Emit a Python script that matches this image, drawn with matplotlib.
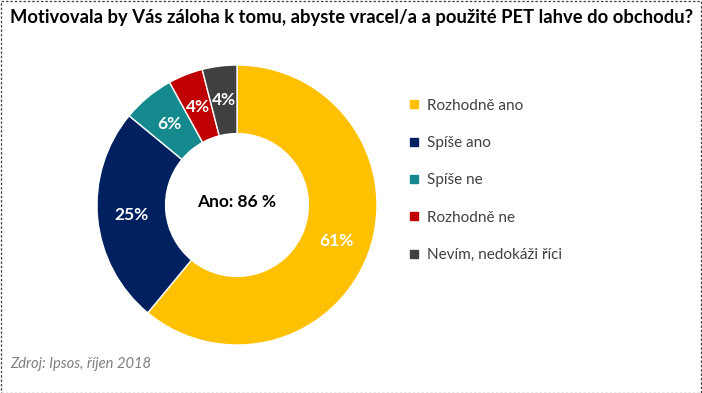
import matplotlib
matplotlib.use("Agg")
import numpy as np
import matplotlib.pyplot as plt
from matplotlib.lines import Line2D
from matplotlib.patches import Rectangle

title = "Motivovala by Vás záloha k tomu, abyste vracel/a a použité PET lahve do obchodu?"
categories = ["Rozhodně ano", "Spíše ano", "Spíše ne", "Rozhodně ne", "Nevím, nedokáži říci"]
values = [61, 25, 6, 4, 4]
colors = ["#FFC000", "#002060", "#148A8F", "#C00000", "#404040"]
center_text = "Ano: 86 %"
source = "Zdroj: Ipsos, říjen 2018"

plt.rcParams['font.family'] = ['Lato', 'DejaVu Sans']

W, H = 702, 393
fig = plt.figure(figsize=(W / 100, H / 100), dpi=100)

# dashed border
fig.patches.append(Rectangle((0.5 / W, 0.5 / H), 1 - 1.5 / W, 1 - 1.5 / H, transform=fig.transFigure,
                             fill=False, edgecolor="#404040", linewidth=0.9, linestyle=(0, (2, 1.5))))

# donut axes: center (237,205) px, radius 140
cx, cy, r = 237, 205, 140
ax = fig.add_axes([(cx - r) / W, (H - cy - r) / H, 2 * r / W, 2 * r / H])
wedges, texts = ax.pie(values, colors=colors, startangle=90, counterclock=False,
                       radius=1.0, wedgeprops=dict(width=0.49, edgecolor="white", linewidth=1.0))
for w, v in zip(wedges, values):
    ang = np.deg2rad((w.theta1 + w.theta2) / 2)
    rr = 0.755
    ax.text(rr * np.cos(ang), rr * np.sin(ang), f"{v}%", ha="center", va="center",
            color="white", fontsize=12.5, fontweight="bold")
ax.text(0, 0.02, center_text, ha="center", va="center", fontsize=12.5, fontweight="bold", color="black")
ax.set_xlim(-1, 1)
ax.set_ylim(-1, 1)
ax.set_aspect("equal")
ax.axis("off")

fig.text(352 / W, 1 - 18 / H, title, ha="center", va="center", fontsize=13.2, fontweight="bold", color="black")
fig.text(10 / W, 1 - 364 / H, source, ha="left", va="center", fontsize=10.6, style="italic", color="#808080")

handles = [Line2D([0], [0], marker="s", linestyle="none", markersize=6, markerfacecolor=c,
                  markeredgecolor=c) for c in colors]
fig.legend(handles, categories, loc="upper left", bbox_to_anchor=(408 / W, 1 - 98.5 / H),
           frameon=False, fontsize=11, labelcolor="#404040", handlelength=0.8, handletextpad=0.45,
           labelspacing=1.53, borderpad=0, borderaxespad=0)

fig.savefig("out.png", dpi=100)
